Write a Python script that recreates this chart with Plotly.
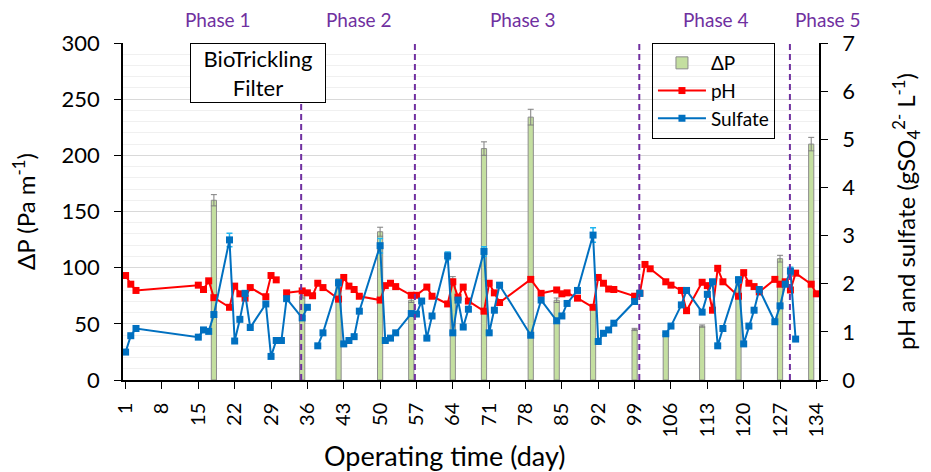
import plotly.graph_objects as go

# ---- data ----
x_ticks = [1, 8, 15, 22, 29, 36, 43, 50, 57, 64, 71, 78, 85, 92, 99, 106, 113, 120, 127, 134]

dp_days = [18, 35, 42, 50, 56, 64, 70, 79, 84, 91, 99, 105, 112, 119, 127, 133]
dp_vals = [160, 75, 88, 132, 71, 90, 206, 234, 71, 65, 45, 41, 48, 90, 108, 210]
dp_err = [5, 2, 2, 4, 2, 2, 6, 7, 2, 2, 1, 1, 1, 2, 3, 6]

ph_days = [1, 2, 3, 15, 16, 17, 18, 21, 22, 23, 24, 25, 28, 29, 30, 31, 32, 35, 36, 37, 38, 39,
           42, 43, 44, 45, 46, 50, 51, 52, 53, 56, 57, 59, 60, 63, 64, 65, 66, 67, 70, 71, 72, 73,
           79, 81, 84, 85, 86, 88, 91, 92, 93, 94, 95, 99, 100, 101, 102, 105, 106, 108, 109,
           112, 113, 114, 115, 116, 119, 120, 121, 122, 123, 126, 127, 128, 129, 130, 133, 134]
ph_vals = [2.17, 1.99, 1.86, 1.97, 1.88, 2.06, 1.71, 1.51, 1.95, 1.79, 1.70, 1.92, 1.73, 2.17, 2.08,
           None, 1.81, 1.85, 1.81, 1.75, 2.01, 1.92, 1.68, 2.13, 1.95, 1.88, 1.74, 1.66, 1.96, 2.01,
           1.94, 1.76, 1.76, 1.93, 1.74, 1.58, 2.04, 1.72, 1.93, 1.64, 1.43, 2.01, 1.81, 1.61, 2.09,
           1.80, 1.87, 1.79, 1.81, 1.70, 1.51, 2.13, 2.01, 1.89, 1.88, 1.74, 1.80, 2.40, 2.31, 2.04,
           1.97, 1.86, 1.44, 2.03, 1.96, 1.45, 2.32, 2.04, 1.74, 2.23, 2.01, 1.94, 1.83, 2.09, 1.99,
           2.04, 1.87, 2.22, 1.99, 1.79]

su_days = [1, 2, 3, 15, 16, 17, 18, 21, 22, 23, 24, 25, 28, 29, 30, 31, 32, 35, 36, 37, 38, 39,
           42, 43, 44, 45, 46, 50, 51, 52, 53, 56, 57, 58, 59, 60, 63, 64, 65, 66, 67, 70, 71, 72,
           73, 79, 81, 84, 85, 86, 88, 91, 92, 93, 94, 95, 99, 100, 101, 105, 106, 108, 109, 112,
           113, 114, 115, 116, 119, 120, 121, 122, 123, 126, 127, 128, 129, 130]
su_vals = [0.58, 0.92, 1.07, 0.89, 1.04, 1.01, 1.36, 2.91, 0.81, 1.26, 1.80, 1.09, 1.58, 0.49, 0.82,
           0.82, 1.69, 1.29, 1.51, None, 0.71, 0.98, 2.02, 0.75, 0.82, 0.90, 1.43, 2.79, 0.82, 0.87,
           0.98, 1.38, 1.37, 1.64, 0.87, 1.33, 2.58, 0.98, 1.66, 1.10, 1.47, 2.67, 0.98, 1.45, 1.97,
           0.93, 1.66, 1.23, 1.33, 1.59, 1.86, 3.01, 0.80, 0.97, 1.04, 1.18, 1.63, 1.80, None, 0.96,
           1.12, 1.56, 1.86, 1.41, 1.78, 2.04, 0.71, 1.07, 2.08, 0.75, 1.12, 1.45, 1.88, 1.21, 1.54,
           1.99, 2.26, 0.85]
su_err = [0.02, 0.02, 0.02, 0.02, 0.02, 0.02, 0.03, 0.14, 0.02, 0.03, 0.05, 0.02, 0.03, 0.02, 0.02,
          0.02, 0.03, 0.03, 0.03, 0, 0.02, 0.02, 0.06, 0.02, 0.02, 0.02, 0.03, 0.15, 0.02, 0.02,
          0.02, 0.03, 0.03, 0.03, 0.02, 0.02, 0.08, 0.02, 0.03, 0.02, 0.03, 0.10, 0.02, 0.03, 0.05,
          0.02, 0.03, 0.02, 0.02, 0.03, 0.05, 0.15, 0.02, 0.02, 0.02, 0.02, 0.04, 0.06, 0, 0.02,
          0.02, 0.03, 0.05, 0.02, 0.04, 0.05, 0.02, 0.02, 0.06, 0.02, 0.02, 0.02, 0.04, 0.02, 0.03,
          0.03, 0.08, 0.02]

phase_bounds = [34.8, 56.7, 99.9, 128.9]
phase_labels = ["Phase 1", "Phase 2", "Phase 3", "Phase 4", "Phase 5"]
phase_label_days = [18.8, 45.9, 77.6, 114.7, 133.0]
phase_label_shift = [0, 0, 0, 0, 17]

FONT = "Lato"
PURPLE = "#7030A0"

fig = go.Figure()

fig.add_trace(go.Bar(
    x=dp_days, y=dp_vals, name="ΔP", width=1.0,
    marker=dict(color="#C4DFA0", line=dict(color="#8C8C8C", width=1)),
    error_y=dict(type="data", array=dp_err, color="#7F7F7F", thickness=1, width=3),
    yaxis="y",
))
fig.add_trace(go.Scatter(
    x=ph_days, y=ph_vals, name="pH", mode="lines+markers", connectgaps=False,
    line=dict(color="#FF0000", width=2),
    marker=dict(symbol="square", size=7, color="#FF0000"),
    yaxis="y2",
))
fig.add_trace(go.Scatter(
    x=su_days, y=su_vals, name="Sulfate", mode="lines+markers", connectgaps=False,
    line=dict(color="#0070C0", width=2),
    marker=dict(symbol="square", size=7, color="#0070C0"),
    error_y=dict(type="data", array=su_err, color="#1FB5F0", thickness=1.5, width=3),
    yaxis="y2",
))

shapes = []
for b in phase_bounds:
    shapes.append(dict(type="line", xref="x", yref="paper", x0=b, x1=b, y0=0, y1=1,
                       line=dict(color=PURPLE, width=2, dash="6px,4px"), layer="above"))

annotations = []
for lab, d, sh in zip(phase_labels, phase_label_days, phase_label_shift):
    annotations.append(dict(text=lab, xref="x", yref="paper", x=d, y=1, xshift=sh, yshift=24,
                            xanchor="center", yanchor="middle", showarrow=False,
                            font=dict(family=FONT, size=19, color=PURPLE)))
annotations.append(dict(text="BioTrickling<br>Filter", xref="paper", yref="paper",
                        x=0.0963, y=1, xanchor="left", yanchor="top", showarrow=False,
                        align="center", width=134, height=58, borderpad=0,
                        bordercolor="#000000", borderwidth=1, bgcolor="#FFFFFF",
                        font=dict(family=FONT, size=22, color="#000000")))
annotations.append(dict(text="Operating time (day)", xref="paper", yref="paper",
                        x=0.4626, y=-0.2226, xanchor="center", yanchor="middle",
                        showarrow=False, font=dict(family=FONT, size=27, color="#000000")))

fig.update_layout(
    width=931, height=472,
    margin=dict(l=123, r=112, t=43, b=92, autoexpand=False),
    paper_bgcolor="white", plot_bgcolor="white",
    font=dict(family=FONT, size=20, color="#000000"),
    barmode="overlay",
    shapes=shapes, annotations=annotations,
    legend=dict(x=0.76, y=1, xanchor="left", yanchor="top",
                bordercolor="#000000", borderwidth=1, bgcolor="rgba(255,255,255,0)",
                font=dict(family=FONT, size=19), itemwidth=48, tracegroupgap=0,
                traceorder="normal"),
    xaxis=dict(range=[0.5, 134.5], tickmode="array", tickvals=x_ticks, automargin=False,
               tickangle=-90, ticks="outside", ticklen=7, tickcolor="#000000",
               ticklabelstandoff=6,
               showline=True, linecolor="#000000", linewidth=1.5, showgrid=False,
               zeroline=False, tickfont=dict(size=20)),
    yaxis=dict(range=[0, 300], dtick=50, ticks="outside", ticklen=7, tickcolor="#000000",
               automargin=False, ticklabelstandoff=10,
               showline=True, linecolor="#000000", linewidth=1.5,
               showgrid=True, gridcolor="#D9D9D9", gridwidth=1, zeroline=False,
               minor=dict(dtick=10, showgrid=True, gridcolor="#F0F0F0", gridwidth=1),
               tickfont=dict(size=22),
               title=dict(text="ΔP (Pa m<sup>-1</sup>)", font=dict(size=24), standoff=19)),
    yaxis2=dict(range=[0, 7], dtick=1, overlaying="y", side="right", automargin=False,
                ticks="outside", ticklen=7, tickcolor="#000000", ticklabelstandoff=10,
                showline=True, linecolor="#000000", linewidth=1.5,
                showgrid=False, zeroline=False, tickfont=dict(size=22),
                title=dict(text="pH and sulfate (gSO<sub>4</sub><sup>2-</sup> L<sup>-1</sup>)",
                           font=dict(size=24), standoff=44)),
)

fig.write_html("out.html", config={"displayModeBar": False},
               post_script="document.body.style.margin='0';document.body.style.padding='0';")
